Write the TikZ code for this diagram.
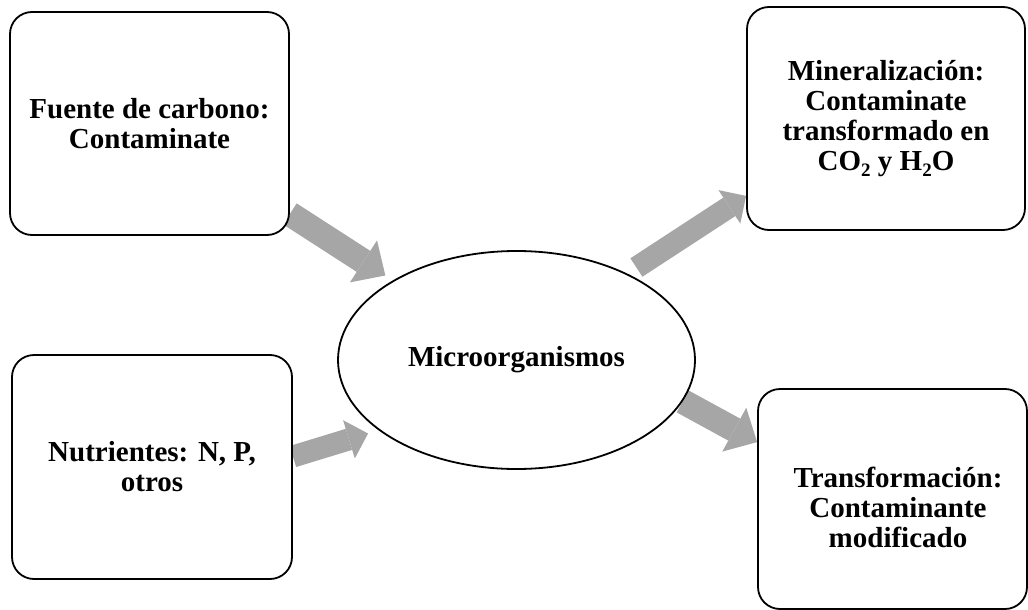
\documentclass[tikz,border=0pt]{standalone}
\usepackage{fontspec}
\setmainfont{Liberation Serif}
\usetikzlibrary{shapes.geometric,arrows.meta,backgrounds}
\definecolor{gris}{HTML}{A6A6A6}
\newcommand{\subi}[1]{\raisebox{-6pt}{\fontsize{19}{19}\selectfont #1}}
\tikzset{
  texto/.style={align=center,font=\fontsize{29}{30}\selectfont\bfseries},
  caja/.style={texto,draw,line width=1.8pt,rounded corners=22pt,fill=white},
  elipse/.style={texto,ellipse,draw,line width=1.8pt,fill=white,inner sep=0pt,
    minimum width=357pt,minimum height=218pt},
  flecha/.style={gris,line width=25pt,-{Triangle[length=26pt,width=50pt,line width=0pt]}},
  flechita/.style={gris,line width=22pt,-{Triangle[length=20pt,width=40pt,line width=0pt]}}
}
\begin{document}
\begin{tikzpicture}[x=1pt,y=-1pt]
\useasboundingbox (0,0) rectangle (1028,610);

\node[caja,minimum width=279pt,minimum height=223pt] (fuente) at (149.5,123.5) {Fuente de carbono:\\Contaminate};
\node[caja,minimum width=280pt,minimum height=224pt] (nutri) at (152,467) {Nutrientes: N, P,\\otros};
\node[elipse] (micro) at (516.5,360) {Microorganismos};
\node[caja,minimum width=278pt,minimum height=223pt] (mineral) at (886,118.5) {Mineralización:\\Contaminate\\transformado en\\CO\subi{2} y H\subi{2}O};
\node[caja,minimum width=269pt,minimum height=220pt] (trans) at (892.5,499) {};
\node[texto] (transtxt) at (898,507) {Transformación:\\Contaminante\\modificado};

\begin{scope}[on background layer]
\draw[flecha,shorten >=9pt] (fuente) -- (micro);
\draw[flechita,shorten >=11pt] ([yshift=10.5pt]nutri.east) -- (micro.207);
\draw[flechita,shorten <=11pt] (micro.38) -- ([yshift=35pt]mineral.south west);
\draw[flecha] (micro.-14) -- ([yshift=-54pt]trans.north west);
\end{scope}
\end{tikzpicture}
\end{document}
